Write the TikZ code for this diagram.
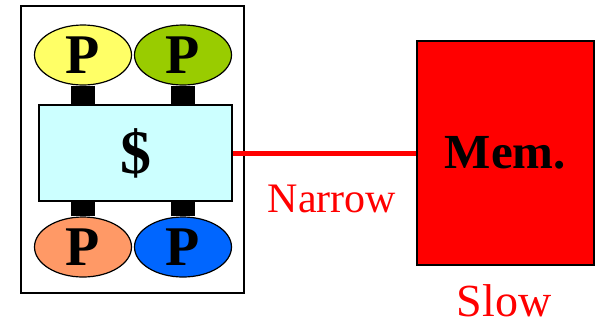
\documentclass[tikz,border=0pt]{standalone}
\usepackage{fontspec}
\setmainfont{Liberation Serif}
\usetikzlibrary{shapes.geometric, calc}
\definecolor{procA}{HTML}{FFFF66}
\definecolor{procB}{HTML}{99CC00}
\definecolor{procC}{HTML}{FF9966}
\definecolor{procD}{HTML}{0066FF}
\definecolor{cachefill}{HTML}{CCFFFF}
\definecolor{memred}{HTML}{FF0000}
\tikzset{
  proc/.style={
    ellipse, draw=black, line width=0.6pt,
    minimum width=48.5pt, minimum height=30pt,
    inner sep=0pt,
    font=\fontsize{28}{30}\selectfont\bfseries
  },
  cache/.style={
    rectangle, draw=black, line width=0.6pt, fill=cachefill,
    minimum width=96.5pt, minimum height=48pt,
    font=\fontsize{31}{34}\selectfont\bfseries
  },
  mem/.style={
    rectangle, draw=black, line width=0.8pt, fill=memred,
    minimum width=88.5pt, minimum height=112pt,
    font=\fontsize{24.5}{28}\selectfont\bfseries
  },
  bus/.style  = {line width=12pt, black},
  link/.style = {line width=2.5pt, memred},
  lbl/.style  = {text=memred, inner sep=0pt, font=\fontsize{21}{24}\selectfont},
}

\begin{document}
\begin{tikzpicture}[x=0.5pt, y=-0.5pt]
\useasboundingbox (0,0) rectangle (599,323);

%% ── Chip outline ────────────────────────────────────────────────────────────
\node[draw=black, line width=1pt, minimum width=111.5pt, minimum height=143.5pt,
      inner sep=0pt] (chip) at (132.5,149.5) {};

%% ── Shared cache and processors ─────────────────────────────────────────────
\node[cache] (C) at (135.5,153) {\$};
\node[proc, fill=procA] (P1) at ( 83, 55) {P};
\node[proc, fill=procB] (P2) at (183, 55) {P};
\node[proc, fill=procC] (P3) at ( 83,247) {P};
\node[proc, fill=procD] (P4) at (183,247) {P};

%% ── Processor → cache stubs ─────────────────────────────────────────────────
\draw[bus] (P1.south) -- (P1.south |- C.north);
\draw[bus] (P2.south) -- (P2.south |- C.north);
\draw[bus] (P3.north) -- (P3.north |- C.south);
\draw[bus] (P4.north) -- (P4.north |- C.south);

%% ── Memory and the narrow link ──────────────────────────────────────────────
\node[mem] (M) at (505.5,153) {Mem.};
\draw[link] (C.east) -- (M.west);

\node[lbl, anchor=base] (narrow) at (332,212) {Narrow};
\node[lbl, anchor=base, font=\fontsize{23}{26}\selectfont] (slow) at (504,316) {Slow};

\end{tikzpicture}
\end{document}
